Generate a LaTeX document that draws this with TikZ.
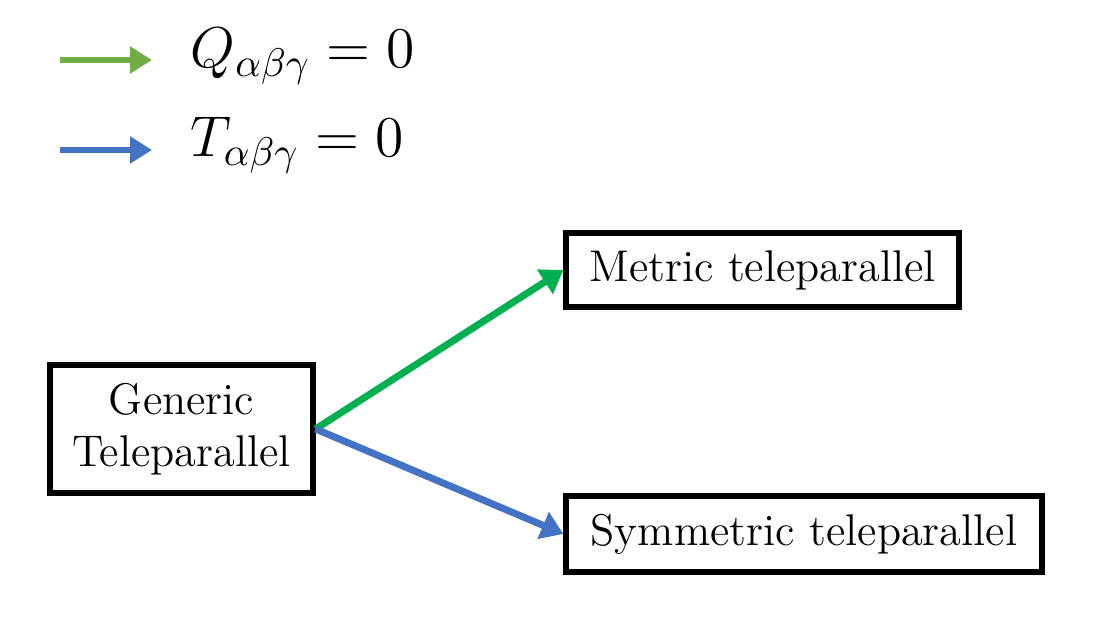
\documentclass[tikz,border=0pt]{standalone}
\usepackage{amsmath,amssymb}
\usepackage{xcolor}
\usepackage{tikz}
\usetikzlibrary{arrows.meta, positioning}

\definecolor{legendgreen}{HTML}{70AD47}
\definecolor{arrowgreen}{HTML}{00B050}
\definecolor{arrowblue}{HTML}{4472C4}

\begin{document}
\begin{tikzpicture}[
    x=0.25pt, y=-0.25pt,
    box/.style={draw, line width=1.3pt, rectangle, align=center,
                inner sep=0pt, font=\fontsize{11.1}{13}\selectfont},
    line/.style={draw, line width=1.75pt,
                 -{Triangle[length=5.5pt, width=7pt]}},
    legend/.style={draw, line width=1.6pt,
                   -{Triangle[length=5.5pt, width=6.5pt]}},
    cond/.style={anchor=west, inner sep=0pt, font=\fontsize{14.5}{18}\selectfont}
]
    \useasboundingbox (0,0) rectangle (1104,630);

    % legend
    \coordinate (qstart) at (60,60);
    \coordinate (qend)   at (152,60);
    \coordinate (tstart) at (60,150);
    \coordinate (tend)   at (152,150);
    \node[cond] (qlabel) at (190,56)  {$Q_{\alpha\beta\gamma} = 0$};
    \node[cond] (tlabel) at (190,145) {$T_{\alpha\beta\gamma} = 0$};
    \draw[legend, legendgreen] (qstart) -- (qend);
    \draw[legend, arrowblue]   (tstart) -- (tend);

    % boxes
    \node[box, minimum width=65.75pt, minimum height=32pt] (generic) at (181.5,429)
        {Generic\\Teleparallel};
    \node[box, minimum width=98.25pt, minimum height=18.5pt] (metric) at (762.5,270)
        {Metric teleparallel};
    \node[box, minimum width=119pt, minimum height=19pt] (symmetric) at (804,534)
        {Symmetric teleparallel};

    \draw[line, arrowgreen] (generic.east) -- (metric.west);
    \draw[line, arrowblue]  (generic.east) -- (symmetric.west);

\end{tikzpicture}
\end{document}
